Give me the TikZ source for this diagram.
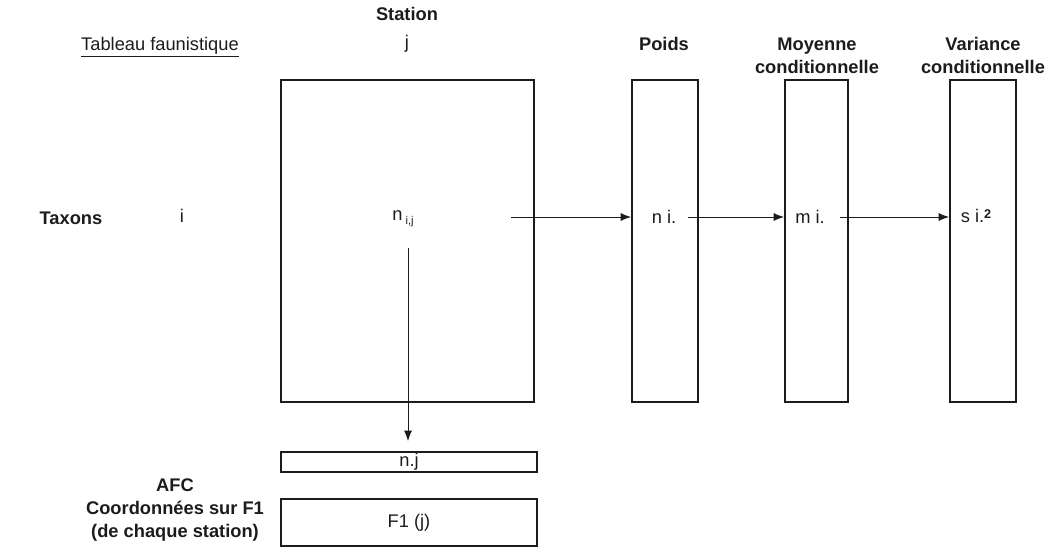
\documentclass[tikz,border=0pt]{standalone}
\usepackage{fontspec}
\setmainfont{Liberation Sans}
\usepackage{tikz}
\usetikzlibrary{arrows.meta}
\definecolor{inkDark}{HTML}{1C1C1C}

\begin{document}
\begin{tikzpicture}[x=0.025cm,y=-0.025cm]

            \tikzset{
                colbox/.style={
                    draw=inkDark,
                    line width=1.3pt,
                    minimum height=8.05cm,
                    inner sep=0pt
                },
                rowbox/.style={
                    draw=inkDark,
                    line width=1.3pt,
                    minimum width=6.4cm,
                    inner sep=0pt
                },
                plaintxt/.style={font=\fontsize{13}{15}\selectfont, text=inkDark, inner sep=0pt},
                headtxt/.style={font=\fontsize{13}{16.5}\selectfont\bfseries, text=inkDark, align=center, inner sep=0pt},
                flow/.style={-{Latex[length=2.6mm,width=2mm]}, line width=0.6pt, draw=inkDark}
            }

            \useasboundingbox (0,0) rectangle (1056,549);

            \newcommand{\ColBox}[3]{%
                \node[colbox, minimum width=#3] (#1) at (#2,241) {};
            }

            \ColBox{tab}{407.5}{6.325cm}
            \ColBox{poids}{665}{1.65cm}
            \ColBox{moy}{816.5}{1.575cm}
            \ColBox{var}{983}{1.65cm}

            \node[rowbox, minimum height=0.5cm] (nj) at (409,462) {};
            \node[rowbox, minimum height=1.175cm] (fone) at (409,522.5) {};

            % titres
            \node[plaintxt] (titre) at (160,47) {\underline{Tableau faunistique}};
            \node[headtxt] (station) at (407,14) {Station};
            \node[plaintxt] (jcol) at (407,44) {j};
            \node[headtxt] (hpoids) at (664,44) {Poids};
            \node[headtxt] (hmoy) at (817,55.5) {Moyenne\\conditionnelle};
            \node[headtxt] (hvar) at (983,55.5) {Variance\\conditionnelle};
            \node[headtxt] (taxons) at (71,218) {Taxons};
            \node[plaintxt] (irow) at (182,216) {i};
            \node[headtxt] (afc) at (175,510) {AFC\\Coordonnées sur F1\\(de chaque station)};

            % contenus
            \node[plaintxt] (nij) at (403,219) {n\,{\fontsize{8}{8}\selectfont\raisebox{-0.6ex}{i,j}}};
            \node[plaintxt] (ni) at (664,217) {n i.};
            \node[plaintxt] (mi) at (810,217) {m i.};
            \node[plaintxt] (si) at (976,216) {s i.{\fontsize{9}{9}\selectfont\raisebox{0.7ex}{\bfseries 2}}};
            \node[plaintxt] (njtxt) at (nj) {n.j};
            \node[plaintxt] (fonetxt) at (fone) {F1 (j)};

            % fleches
            \coordinate (s1) at (511,217);
            \coordinate (s2) at (688,217);
            \coordinate (s3) at (840,217);
            \coordinate (s0) at (408,248);
            \coordinate (e0) at (408,441);
            \draw[flow] (s1) -- (s1 -| poids.west);
            \draw[flow] (s2) -- (s2 -| moy.west);
            \draw[flow] (s3) -- (s3 -| var.west);
            \draw[flow] (s0) -- (e0);

        \end{tikzpicture}
\end{document}
